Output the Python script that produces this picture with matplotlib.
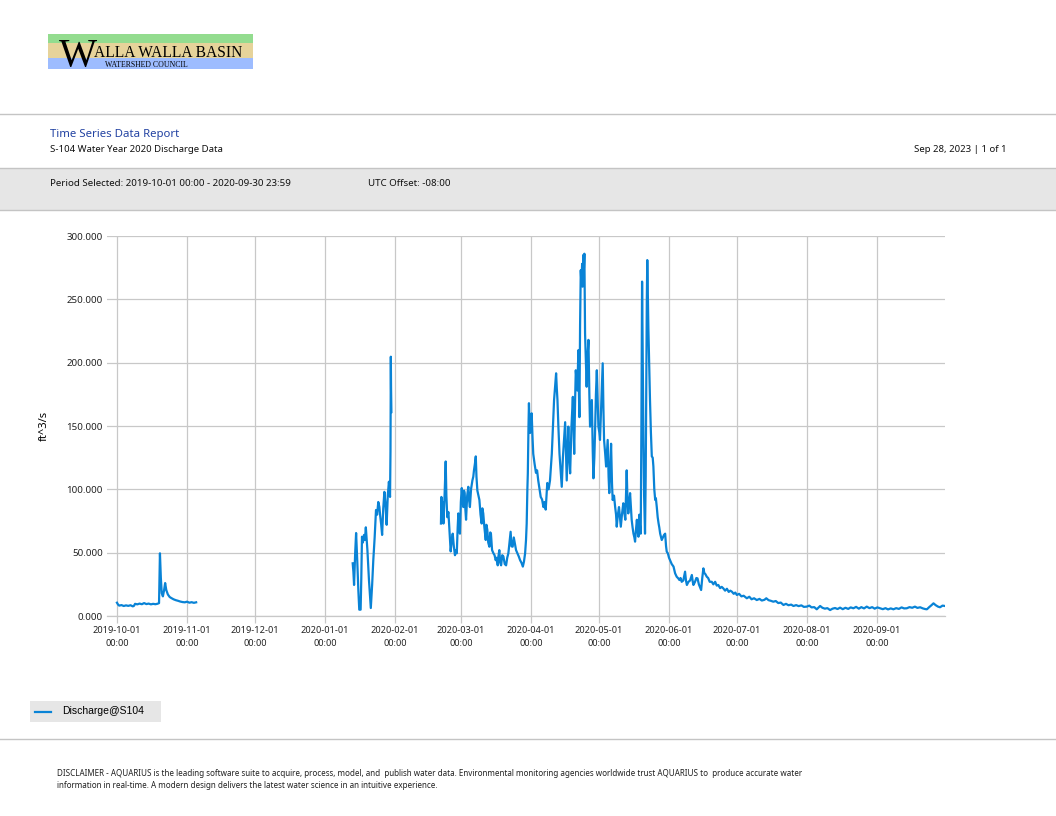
import numpy as np
import pandas as pd
import matplotlib
matplotlib.use("Agg")
import matplotlib.pyplot as plt
import matplotlib.dates as mdates
from matplotlib.patches import Rectangle
from matplotlib.lines import Line2D

# discharge readings, days since 2019-10-01 00:00 (nan = gap in record)
days_oct = [0.0, 0.5, 1.0, 2.0, 3.0, 4.0, 5.0, 6.0, 7.0, 7.5, 8.0, 9.0, 10.0, 11.0, 12.0, 13.0,
            14.0, 15.0, 16.0, 17.0, 18.0, 18.6, 19.0, 19.4, 19.8, 20.3, 20.8, 21.3, 21.8, 22.5,
            23.3, 24.0, 25.0, 26.0, 27.0, 28.0, 29.0, 30.0, 31.0, 32.0, 33.0, 34.0, 35.0]
flow_oct = [10.5, 9.0, 8.2, 8.6, 7.9, 8.4, 8.0, 8.5, 7.6, 8.0, 9.6, 9.2, 9.8, 9.3, 10.2, 9.4,
            9.8, 9.2, 9.6, 9.3, 9.7, 10.2, 49.5, 30.0, 18.0, 15.5, 20.0, 26.0, 20.5, 17.0,
            15.0, 14.2, 13.2, 12.5, 12.0, 11.4, 11.0, 10.8, 11.3, 10.5, 10.9, 10.4, 10.8]

days_jan = [104.2, 104.5, 104.8, 105.3, 105.7, 106.2, 106.7, 107.1, 107.7, 108.0, 108.3, 108.7,
            109.2, 109.6, 110.0, 110.7, 111.4, 112.2, 112.8, 113.3, 113.9, 114.5, 115.0, 115.5,
            116.0, 116.3, 116.8, 117.2, 117.7, 118.2, 118.7, 119.2, 119.7, 120.2, 120.5, 120.7,
            120.9, 121.05, 121.15, 121.3]
flow_jan = [41.6, 35, 24.5, 50, 65.5, 44, 20, 5, 5, 30, 62.6, 58,
            64, 60, 70, 52, 28, 6.3, 25, 44, 62, 83.7, 80, 90,
            86, 80, 72, 64, 85, 98, 88, 72, 95, 106, 99, 94,
            130, 204.7, 180, 161]

days_spr = [143.2, 143.4, 143.7, 144.0, 144.3, 144.8, 145.3, 145.6, 146.0, 146.5, 146.9, 147.2,
            147.5, 148.0, 148.4, 148.9, 149.4, 149.8, 150.2, 150.6, 150.9, 151.2, 151.6, 152.0,
            152.4, 152.8, 153.1, 153.4, 153.7, 154.0, 154.3, 154.8, 155.3, 155.6, 156.0, 156.5,
            157.1, 157.5, 157.8, 158.2, 158.6, 158.9, 159.3, 159.8, 160.2, 160.7, 161.2, 161.5,
            161.9, 162.4, 163.0, 163.3, 163.7, 164.1, 164.6, 165.0, 165.3, 165.8, 166.4, 166.9,
            167.4, 167.8, 168.3, 168.6, 169.0, 169.4, 169.8, 170.3, 170.8, 171.4, 172.0, 172.5,
            173.0, 173.5, 174.0, 174.4, 174.9, 175.4, 175.9, 176.4, 177.0, 177.6, 178.2, 178.8,
            179.4, 179.9, 180.4, 180.8, 181.1, 181.4, 181.6, 181.9, 182.1, 182.4, 182.6, 183.0,
            183.3, 183.7, 184.0, 184.6, 185.2, 185.7, 186.2, 186.8, 187.3, 187.9, 188.5, 189.0,
            189.5, 189.9, 190.2, 190.8, 191.4, 191.8, 192.2, 192.7, 193.2, 193.6, 194.1, 194.4,
            194.7, 195.1, 195.6, 196.1, 196.6, 197.1, 197.6, 198.1, 198.5, 198.8, 199.2, 199.5,
            199.9, 200.3, 200.9, 201.5, 201.8, 202.1, 202.5, 202.8, 203.2, 203.5, 203.8, 204.0,
            204.2, 204.4, 204.7, 205.0, 205.3, 205.6, 205.8, 206.1, 206.4, 206.6, 206.9, 207.3,
            207.6, 208.0, 208.4, 208.8, 209.1, 209.5, 209.9, 210.3, 210.6, 211.0, 211.3, 211.7,
            212.1, 212.5, 212.8, 213.2, 213.5, 213.9, 214.3, 214.7, 215.0, 215.3, 215.8, 216.2,
            216.6, 216.9, 217.3, 217.6, 218.0, 218.4, 218.8, 219.1, 219.7, 220.2, 220.6, 220.9,
            221.4, 221.9, 222.3, 222.7, 223.2, 223.8, 224.2, 224.7, 225.0, 225.3, 225.6, 226.0,
            226.4, 226.8, 227.2, 227.5, 227.9, 228.3, 228.7, 229.0, 229.4, 229.8, 230.1, 230.5,
            230.9, 231.2, 231.5, 231.8, 232.1, 232.4, 232.7, 233.0, 233.4, 233.7, 233.9, 234.2,
            234.4, 234.7, 234.9, 235.3, 235.6, 236.0, 236.4, 236.8, 237.1, 237.5, 237.9, 238.2,
            238.6, 239.0, 239.4, 239.7, 240.1, 240.8, 241.3, 241.8, 242.3, 242.7, 243.0, 243.5,
            244.0, 244.5, 245.2, 246.0, 246.7, 247.4, 248.1, 248.6, 249.1, 249.6, 250.3, 251.1,
            251.5, 251.9, 252.6, 253.3, 254.1, 254.5, 254.8, 255.5, 256.1, 256.6, 257.2, 258.2,
            258.7, 259.2, 259.6, 260.1, 260.7, 261.3, 262.0, 262.9, 263.6, 264.4, 265.1, 265.8,
            266.6, 267.3, 268.0, 268.8, 269.6, 270.4, 271.1, 271.8, 272.6, 273.3, 274.0, 275.0,
            276.0, 277.0, 278.4, 279.5, 280.5, 281.6, 282.8, 284.0, 285.0, 286.2, 287.0, 288.0,
            289.0, 290.1, 291.2, 292.3, 293.4, 294.6, 295.7, 296.8, 298.0, 299.0, 300.2, 301.3,
            302.5, 303.6, 304.9, 306.0, 307.0, 308.2, 309.3, 310.0, 310.8, 311.8, 312.9, 314.0,
            315.2, 316.3, 317.4, 318.5, 319.6, 320.8, 322.0, 323.2, 324.3, 325.5, 326.7, 327.9,
            329.0, 330.2, 331.4, 332.6, 333.8, 334.9, 336.1, 337.3, 338.5, 339.7, 340.8, 342.0,
            343.2, 344.4, 345.6, 346.8, 347.9, 349.1, 350.3, 351.5, 352.7, 353.8, 355.0, 356.2,
            357.2, 358.0, 359.0, 360.0, 360.9, 361.9, 362.9, 363.8, 364.9, 365.95]
flow_spr = [73, 94, 80, 90, 73, 95, 122, 95, 78, 82, 70, 62,
            51, 60, 65, 55, 48, 52, 49.5, 70, 81, 72, 65, 90,
            101, 90, 86, 99, 97, 84, 76, 95, 102, 92, 86, 100,
            107, 110, 115, 120, 126, 110, 99, 95, 91.6, 80, 73, 85,
            81, 70, 60, 72, 68, 58, 54.7, 66, 65, 52, 49.5, 48,
            44, 46, 40, 47, 52, 42, 40, 48, 47, 41, 40, 46,
            49.5, 58, 66.5, 55, 54.7, 62, 57, 52, 49.5, 47, 44, 42,
            39, 43, 49.5, 60, 73, 100, 112.6, 150, 168, 150, 144.5, 155,
            160, 140, 128, 120, 113, 115, 107, 100, 94, 92, 86, 90,
            84, 96, 105, 100, 107, 118, 128, 150, 170.5, 180, 191.6, 180,
            170.5, 150, 128, 115, 102, 125, 139, 153, 125, 107, 130, 149.5,
            125, 112.6, 150, 173, 150, 128, 170, 194, 185, 178, 200, 210,
            175, 157, 230, 273, 262, 278, 260, 285, 275, 286, 223, 200,
            181, 205, 218, 175, 149.5, 160, 170.5, 130, 108.7, 125, 144, 175,
            194, 170, 149.5, 145, 139, 160, 181, 199.5, 165, 139, 128, 118,
            130, 139, 110, 97, 115, 136, 105, 91.6, 95, 86, 80, 70.5,
            80, 86, 78, 70.5, 80, 89, 82, 76, 95, 115, 95, 81,
            90, 97, 85, 76, 70, 65, 62, 58.7, 68, 76, 68, 62.6,
            80, 70, 65, 150, 264, 200, 139, 95, 65, 110, 165, 250,
            281, 250, 226, 195, 170.5, 145, 126, 125, 118, 100, 91.6, 93,
            86, 78, 73, 70, 65, 60, 62, 64, 65, 55, 50.8, 49.5,
            46, 44, 41, 39, 33.7, 31, 29.7, 28.4, 30, 27, 28, 35,
            28, 24.5, 27, 28, 32.4, 27, 24.5, 27, 30, 29.7, 25, 20.5,
            30, 37.6, 34, 33, 31, 30, 27, 27, 25, 27, 24, 24.5,
            22, 23, 21.8, 20, 21.5, 19, 20, 19.2, 17.5, 18.5, 16.6, 17.5,
            15.5, 16, 14, 15.2, 13.2, 14, 12.6, 13.5, 12.2, 12.8, 14, 12.5,
            12.0, 11.3, 11.8, 10.2, 10.6, 8.7, 9.6, 8.5, 9.0, 7.9, 8.6, 7.8,
            8.4, 7.2, 7.4, 8.2, 6.8, 7.0, 5.3, 6.5, 7.9, 6.5, 5.8, 6.2,
            4.7, 5.8, 6.3, 5.5, 6.6, 5.4, 6.5, 5.6, 6.8, 6.1, 7.2, 5.8,
            7.0, 6.0, 7.4, 6.2, 7.0, 5.8, 6.8, 6.1, 5.4, 6.2, 5.2, 6.0,
            5.3, 6.2, 5.6, 6.8, 6.0, 6.1, 7.0, 6.5, 7.4, 6.4, 6.9, 6.0,
            5.5, 5.3, 7.0, 8.5, 10.0, 8.5, 7.4, 6.9, 8.2, 7.9]

y_ticks = [0, 50, 100, 150, 200, 250, 300]

series_name = "Discharge@S104"
report_title = "Time Series Data Report"
report_sub = "S-104 Water Year 2020 Discharge Data"
report_date = "Sep 28, 2023 | 1 of 1"
period_txt = "Period Selected: 2019-10-01 00:00 - 2020-09-30 23:59"
utc_txt = "UTC Offset: -08:00"
disclaimer = ["DISCLAIMER - AQUARIUS is the leading software suite to acquire, process, model, and  publish water data. "
              "Environmental monitoring agencies worldwide trust AQUARIUS to  produce accurate water",
              "information in real-time. A modern design delivers the latest water science in an intuitive experience."]

W, H = 1056, 816
start = pd.Timestamp("2019-10-01")

def fx(x):
    return x / W

def fy(y):
    return 1 - y / H

days = days_oct + [np.nan] + days_jan + [np.nan] + days_spr
flow = flow_oct + [np.nan] + flow_jan + [np.nan] + flow_spr
d = np.array(days, dtype=float)
t = [start + pd.Timedelta(days=v) if not np.isnan(v) else pd.NaT for v in d]
# fill gap times so nan breaks the line
t = pd.Series(t).ffill()

fig = plt.figure(figsize=(W / 100, H / 100), dpi=100)
hfont = "Noto Sans"

# logo
for y0, y1, c in [(34, 43.5, "#93dc8f"), (43.5, 58, "#e6d39a"), (58, 69, "#9dbcff")]:
    fig.add_artist(Rectangle((fx(48), fy(y1)), fx(205), (y1 - y0) / H, transform=fig.transFigure,
                             color=c, lw=0))
fig.text(fx(59), fy(66), "W", family="Liberation Serif", fontsize=29, va="baseline")
fig.text(fx(94), fy(57), "ALLA WALLA BASIN", family="Liberation Serif", fontsize=11.2, va="baseline")
fig.text(fx(105), fy(67), "WATERSHED COUNCIL", family="Liberation Serif", fontsize=5.6, va="baseline")

# header rules and band
fig.add_artist(Line2D([0, 1], [fy(114), fy(114)], color="#c4c4c4", lw=1, transform=fig.transFigure))
fig.add_artist(Rectangle((0, fy(210)), 1, 42 / H, transform=fig.transFigure, facecolor="#e6e6e6",
                         edgecolor="none"))
fig.add_artist(Line2D([0, 1], [fy(168), fy(168)], color="#c4c4c4", lw=1, transform=fig.transFigure))
fig.add_artist(Line2D([0, 1], [fy(210), fy(210)], color="#c4c4c4", lw=1, transform=fig.transFigure))
fig.add_artist(Line2D([0, 1], [fy(739), fy(739)], color="#c4c4c4", lw=1, transform=fig.transFigure))

fig.text(fx(50), fy(135), report_title, family=hfont, fontsize=8.2, color="#2242a2", va="center")
fig.text(fx(50), fy(150), report_sub, family=hfont, fontsize=6.9, color="#111111", va="center")
fig.text(fx(1007), fy(150), report_date, family=hfont, fontsize=6.9, color="#111111", va="center", ha="right")
fig.text(fx(50), fy(183), period_txt, family=hfont, fontsize=7.0, color="#111111", va="center")
fig.text(fx(368), fy(183), utc_txt, family=hfont, fontsize=7.0, color="#111111", va="center")

fig.text(fx(57), fy(774), disclaimer[0], family=hfont, fontsize=5.8, color="#222222", va="center")
fig.text(fx(57), fy(785), disclaimer[1], family=hfont, fontsize=5.8, color="#222222", va="center")

# legend
fig.add_artist(Rectangle((fx(30), fy(722)), fx(131), 21 / H, transform=fig.transFigure,
                         facecolor="#e6e6e6", edgecolor="none"))
fig.add_artist(Line2D([fx(35), fx(51)], [fy(711.5), fy(711.5)], color="#0983d6", lw=1.6,
                      transform=fig.transFigure))
fig.text(fx(62), fy(711.5), series_name, family="Liberation Sans", fontsize=7.5, va="center")

# chart
ax = fig.add_axes([fx(107), fy(616), fx(945 - 107), (616 - 236) / H])
ax.plot(t, flow, color="#0983d6", lw=1.6)
ax.set_xlim(start - pd.Timedelta(days=4.4), start + pd.Timedelta(days=365.99))
ax.set_ylim(0, 300)
ax.set_yticks(y_ticks)
ax.set_yticklabels(["%.3f" % v for v in y_ticks])
ax.xaxis.set_major_locator(mdates.MonthLocator())
ax.xaxis.set_major_formatter(mdates.DateFormatter("%Y-%m-%d\n%H:%M"))
ax.grid(True, color="#c8c8c8", lw=0.9)
ax.set_axisbelow(True)
for s in ax.spines.values():
    s.set_visible(False)
ax.spines["bottom"].set_visible(True)
ax.spines["bottom"].set_color("#c8c8c8")
ax.spines["bottom"].set_linewidth(0.9)
ax.tick_params(axis="x", length=5, color="#c8c8c8", width=0.9, pad=2, labelsize=6.6)
ax.tick_params(axis="y", length=0, pad=3, labelsize=7.0)
for lab in ax.get_xticklabels():
    lab.set_linespacing(1.55)
for lab in ax.get_xticklabels() + ax.get_yticklabels():
    lab.set_family(hfont)
    lab.set_color("#222222")
ax.set_ylabel("ft^3/s", family=hfont, fontsize=8)
ax.yaxis.set_label_coords((50 - 107) / (945 - 107), 0.5)

fig.savefig("out.png", dpi=100)
